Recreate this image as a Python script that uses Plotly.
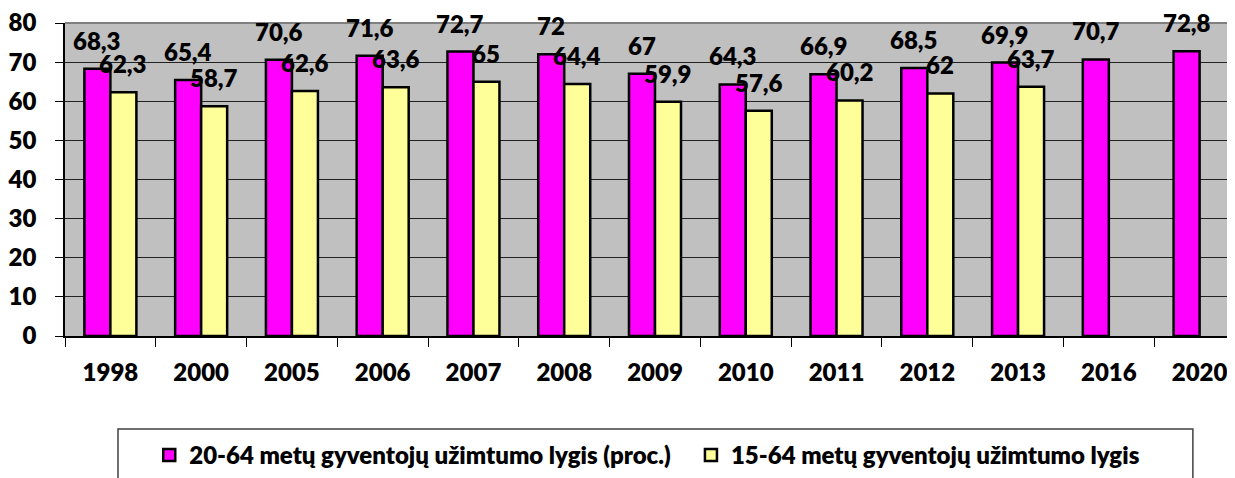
import plotly.graph_objects as go

years = ["1998", "2000", "2005", "2006", "2007", "2008", "2009", "2010", "2011", "2012", "2013", "2016", "2020"]
s1_name = "20-64 metų gyventojų užimtumo lygis (proc.)"
s2_name = "15-64 metų gyventojų užimtumo lygis"
s1 = [68.3, 65.4, 70.6, 71.6, 72.7, 72, 67, 64.3, 66.9, 68.5, 69.9, 70.7, 72.8]
s2 = [62.3, 58.7, 62.6, 63.6, 65, 64.4, 59.9, 57.6, 60.2, 62, 63.7, None, None]
y_ticks = [0, 10, 20, 30, 40, 50, 60, 70, 80]

FONT = "Lato"
BIG = 24
W = 800


def fmt(v):
    if float(v).is_integer():
        return str(int(v))
    return str(v).replace(".", ",")


fig = go.Figure()
fig.add_trace(go.Bar(x=years, y=s1, name=s1_name, legend="legend",
                     marker=dict(color="#FF00FF", line=dict(color="black", width=2.5))))
fig.add_trace(go.Bar(x=years, y=s2, name=s2_name, legend="legend2",
                     marker=dict(color="#FFFF99", line=dict(color="black", width=2.5))))

annotations = []
for i, v in enumerate(s1):
    annotations.append(dict(x=i, y=v, xref="x", yref="y", text=fmt(v), showarrow=False,
                            xanchor="center", yanchor="bottom", xshift=-13, yshift=12,
                            font=dict(family=FONT, size=BIG, color="black", weight=W)))
for i, v in enumerate(s2):
    if v is None:
        continue
    annotations.append(dict(x=i, y=v, xref="x", yref="y", text=fmt(v), showarrow=False,
                            xanchor="center", yanchor="bottom", xshift=13, yshift=12,
                            font=dict(family=FONT, size=BIG, color="black", weight=W)))

shapes = [
    # plot area top border
    dict(type="line", xref="paper", yref="paper", x0=0, x1=1, y0=1, y1=1,
         line=dict(color="#808080", width=2), layer="above"),
    # legend box
    dict(type="rect", xref="paper", yref="paper", x0=0.0453, x1=0.964, y0=-0.297, y1=-0.47,
         line=dict(color="#404040", width=1.5), fillcolor="rgba(0,0,0,0)"),
]

legend_common = dict(orientation="h", xanchor="left", y=-0.31, yanchor="top",
                     font=dict(family=FONT, size=24, weight=W),
                     bgcolor="rgba(0,0,0,0)", borderwidth=0, itemclick=False)

fig.update_layout(
    width=1227, height=470,
    margin=dict(l=57, r=0, t=15, b=142),
    paper_bgcolor="white",
    plot_bgcolor="#C0C0C0",
    barmode="group",
    bargap=0.427,
    bargroupgap=0,
    font=dict(family=FONT, size=BIG, color="black", weight=W),
    xaxis=dict(type="category", range=[-0.5, 12.39], showline=True, linecolor="black",
               linewidth=1.5, ticks="outside", tickson="boundaries", ticklen=9,
               tickcolor="black", tickwidth=1, ticklabelstandoff=14,
               tickfont=dict(family=FONT, size=BIG, weight=W), showgrid=False,
               automargin=False),
    yaxis=dict(range=[0, 80], tickvals=y_ticks, showline=True, linecolor="black",
               linewidth=1.5, ticks="outside", ticklen=8, tickcolor="black", tickwidth=1,
               gridcolor="#222222", gridwidth=1, zeroline=False, ticklabelstandoff=14,
               ticklabeloverflow="allow",
               tickfont=dict(family=FONT, size=BIG, weight=W), automargin=False),
    showlegend=True,
    legend=dict(x=0.072, **legend_common),
    legend2=dict(x=0.535, **legend_common),
    annotations=annotations,
    shapes=shapes,
)

fig.write_html("out.html")
